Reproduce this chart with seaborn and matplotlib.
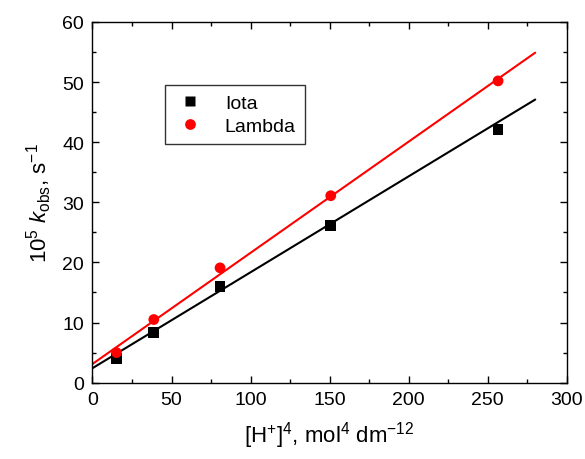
import numpy as np
import pandas as pd
import matplotlib
matplotlib.use("Agg")
import matplotlib.pyplot as plt
from matplotlib.ticker import MultipleLocator
import seaborn as sns

# values
h4 = [15.2, 38.8, 80.7, 150.7, 256.5]
iota = [4.0, 8.3, 16.0, 26.1, 42.1]
lam = [5.0, 10.5, 19.1, 31.1, 50.2]
# fitted lines, end points as drawn in the reference
fit_x = [0, 280]
iota_fit = [2.4, 47.1]
lam_fit = [3.1, 54.9]

sns.set_style("ticks")
plt.rcParams['font.family'] = ['Liberation Sans', 'DejaVu Sans']
plt.rcParams['mathtext.fontset'] = 'custom'
plt.rcParams['mathtext.rm'] = 'Liberation Sans'
plt.rcParams['mathtext.it'] = 'Liberation Sans:italic'
plt.rcParams['text.color'] = 'black'
plt.rcParams['axes.labelcolor'] = 'black'
plt.rcParams['xtick.color'] = 'black'
plt.rcParams['ytick.color'] = 'black'

df = pd.DataFrame({'x': h4 * 2, 'y': iota + lam,
                   'Sample': ['Iota'] * 5 + ['Lambda'] * 5})

fig = plt.figure(figsize=(5.85, 4.6), dpi=100)
ax = fig.add_axes([0.158, 0.166, 0.811, 0.784])

colors = {'Iota': 'black', 'Lambda': 'red'}
sns.lineplot(x=fit_x, y=iota_fit, ax=ax, color='black', lw=1.5, legend=False)
sns.lineplot(x=fit_x, y=lam_fit, ax=ax, color='red', lw=1.5, legend=False)

sns.scatterplot(data=df, x='x', y='y', hue='Sample', style='Sample',
                markers={'Iota': 's', 'Lambda': 'o'}, palette=colors,
                s=60, edgecolor='none', ax=ax, zorder=3)

ax.set_xlim(0, 300)
ax.set_ylim(0, 60)
ax.xaxis.set_major_locator(MultipleLocator(50))
ax.xaxis.set_minor_locator(MultipleLocator(25))
ax.yaxis.set_major_locator(MultipleLocator(10))
ax.yaxis.set_minor_locator(MultipleLocator(5))
ax.tick_params(which='both', direction='in', top=True, right=True, labelsize=14, width=1)
ax.tick_params(which='major', length=5, pad=6)
ax.tick_params(which='minor', length=3)
for s in ax.spines.values():
    s.set_linewidth(1)
    s.set_color('black')

ax.set_xlabel(r'[H$^{+}$]$^{4}$, mol$^{4}$ dm$^{-12}$', fontsize=16, labelpad=8)
ax.set_ylabel(r'10$^{5}$ $k_{\mathrm{obs}}$, s$^{-1}$', fontsize=16, labelpad=6)

handles, labels = ax.get_legend_handles_labels()
leg = ax.legend(handles, labels, loc='upper left', bbox_to_anchor=(0.154, 0.824),
                borderaxespad=0, fontsize=14, frameon=True, fancybox=False,
                edgecolor='black', handletextpad=1.0, borderpad=0.45,
                labelspacing=0.3, handlelength=1.6)
leg.get_frame().set_linewidth(1)

plt.savefig('out.png', dpi=100)
